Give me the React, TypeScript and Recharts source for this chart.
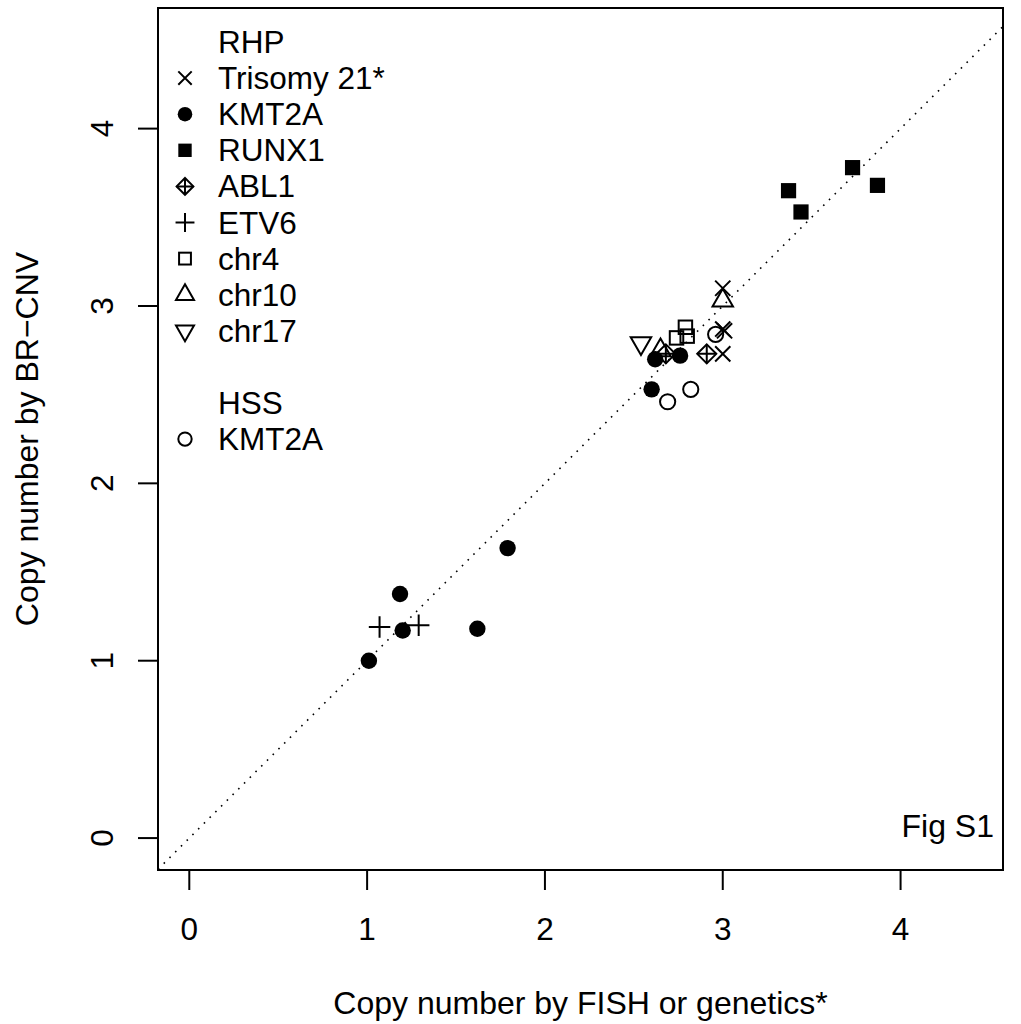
import React from 'react';
import { ScatterChart, Scatter, XAxis, YAxis, ReferenceLine, ReferenceArea, Legend } from 'recharts';

const FONT = '"Liberation Sans", Arial, Helvetica, sans-serif';

// RHP series
const trisomy21 = [{ x: 3.0, y: 3.1 }, { x: 3.0, y: 2.87 }, { x: 3.01, y: 2.86 }, { x: 3.0, y: 2.73 }];
const kmt2aRHP = [
  { x: 1.01, y: 1.0 }, { x: 1.185, y: 1.376 }, { x: 1.2, y: 1.17 }, { x: 1.62, y: 1.18 },
  { x: 1.79, y: 1.635 }, { x: 2.6, y: 2.53 }, { x: 2.62, y: 2.7 }, { x: 2.76, y: 2.72 },
];
const runx1 = [{ x: 3.37, y: 3.65 }, { x: 3.73, y: 3.78 }, { x: 3.87, y: 3.68 }, { x: 3.44, y: 3.53 }];
const abl1 = [{ x: 2.91, y: 2.73 }, { x: 2.68, y: 2.73 }];
const etv6 = [{ x: 1.07, y: 1.19 }, { x: 1.29, y: 1.2 }];
const chr4 = [{ x: 2.79, y: 2.88 }, { x: 2.8, y: 2.83 }, { x: 2.74, y: 2.82 }];
const chr10 = [{ x: 3.0, y: 3.03 }, { x: 2.65, y: 2.75 }];
const chr17 = [{ x: 2.54, y: 2.79 }];
// HSS series
const kmt2aHSS = [{ x: 2.96, y: 2.84 }, { x: 2.69, y: 2.46 }, { x: 2.82, y: 2.53 }];

const xTicks = [0, 1, 2, 3, 4];
const yTicks = [0, 1, 2, 3, 4];
const xDomain: [number, number] = [-0.176, 4.576];
const yDomain: [number, number] = [-0.18, 4.68];

const series = [
  { name: 'Trisomy 21*', data: trisomy21, sym: 'x' },
  { name: 'KMT2A', data: kmt2aRHP, sym: 'dot' },
  { name: 'RUNX1', data: runx1, sym: 'square' },
  { name: 'ABL1', data: abl1, sym: 'diamond' },
  { name: 'ETV6', data: etv6, sym: 'plus' },
  { name: 'chr4', data: chr4, sym: 'osquare' },
  { name: 'chr10', data: chr10, sym: 'tri' },
  { name: 'chr17', data: chr17, sym: 'dtri' },
  { name: 'KMT2A (HSS)', data: kmt2aHSS, sym: 'ocircle' },
];

const legendRows = [
  { header: 'RHP' },
  { sym: 'x', label: 'Trisomy 21*' },
  { sym: 'dot', label: 'KMT2A' },
  { sym: 'square', label: 'RUNX1' },
  { sym: 'diamond', label: 'ABL1' },
  { sym: 'plus', label: 'ETV6' },
  { sym: 'osquare', label: 'chr4' },
  { sym: 'tri', label: 'chr10' },
  { sym: 'dtri', label: 'chr17' },
  { blank: true },
  { header: 'HSS' },
  { sym: 'ocircle', label: 'KMT2A' },
];

const R = 7.6;
const FS = 31.5;

function Sym({ type, cx, cy, s = 1 }: { type: string; cx: number; cy: number; s?: number }) {
  const st = { stroke: '#000', strokeWidth: 2, fill: 'none' };
  const r = R * s;
  switch (type) {
    case 'x':
      return <path d={`M${cx - r},${cy - r}L${cx + r},${cy + r}M${cx - r},${cy + r}L${cx + r},${cy - r}`} {...st} />;
    case 'dot':
      return <circle cx={cx} cy={cy} r={r + 0.6} fill="#000" />;
    case 'square':
      return <rect x={cx - r} y={cy - r} width={2 * r} height={2 * r} fill="#000" />;
    case 'diamond': {
      const d = r * 1.253;
      return (
        <g {...st}>
          <path d={`M${cx},${cy - d}L${cx + d},${cy}L${cx},${cy + d}L${cx - d},${cy}Z`} />
          <path d={`M${cx},${cy - d}L${cx},${cy + d}M${cx - d},${cy}L${cx + d},${cy}`} />
        </g>
      );
    }
    case 'plus': {
      const d = r * 1.414;
      return <path d={`M${cx - d},${cy}L${cx + d},${cy}M${cx},${cy - d}L${cx},${cy + d}`} {...st} />;
    }
    case 'osquare': {
      const d = r * 0.886;
      return <rect x={cx - d} y={cy - d} width={2 * d} height={2 * d} {...st} />;
    }
    case 'tri': {
      const t = r * 1.555, w = r * 1.3468, b = r * 0.7776;
      return <path d={`M${cx},${cy - t}L${cx + w},${cy + b}L${cx - w},${cy + b}Z`} {...st} />;
    }
    case 'dtri': {
      const t = r * 1.555, w = r * 1.3468, b = r * 0.7776;
      return <path d={`M${cx},${cy + t}L${cx + w},${cy - b}L${cx - w},${cy - b}Z`} {...st} />;
    }
    case 'ocircle':
      return <circle cx={cx} cy={cy} r={r} {...st} />;
    default:
      return null;
  }
}

const XTick = (props: any) => {
  const { x, y, payload } = props;
  return (
    <text x={x} y={y} dy="0.71em" textAnchor="middle" fontSize={FS} fontFamily={FONT} fill="#000">
      {payload.value}
    </text>
  );
};

const YTick = (props: any) => {
  const { x, y, payload } = props;
  return (
    <text x={x} y={y} transform={`rotate(-90 ${x} ${y})`} textAnchor="middle" fontSize={FS} fontFamily={FONT} fill="#000">
      {payload.value}
    </text>
  );
};

const YTitle = (props: any) => {
  const vb = props.viewBox || { x: 0, y: 8, width: 158, height: 862 };
  const cx = vb.x + 27;
  const cy = vb.y + vb.height / 2;
  return (
    <text x={cx} y={cy} transform={`rotate(-90 ${cx} ${cy})`} textAnchor="middle" dominantBaseline="central" fontSize={32} fontFamily={FONT} fill="#000">
      Copy number by BR−CNV
    </text>
  );
};

const FigLabel = (props: any) => {
  const vb = props.viewBox;
  if (!vb) return null;
  return (
    <text x={vb.x + vb.width - 9} y={vb.y + vb.height - 33} textAnchor="end" fontSize={32} fontFamily={FONT} fill="#000">
      Fig S1
    </text>
  );
};

const LegendContent = () => {
  const rowH = 36.1;
  return (
    <svg width={290} height={470}>
      {legendRows.map((row: any, i) => {
        const cy = 32 + i * rowH;
        if (row.blank) return null;
        if (row.header)
          return (
            <text key={i} x={58} y={cy} dominantBaseline="central" fontSize={FS} fontFamily={FONT} fill="#000">
              {row.header}
            </text>
          );
        return (
          <g key={i}>
            <Sym type={row.sym} cx={25} cy={cy} s={0.88} />
            <text x={58} y={cy} dominantBaseline="central" fontSize={FS} fontFamily={FONT} fill="#000">
              {row.label}
            </text>
          </g>
        );
      })}
    </svg>
  );
};

export default function App() {
  return (
    <div style={{ position: 'absolute', left: 0, top: 0, width: 1021, height: 1024, background: '#fff' }}>
      <ScatterChart width={1021} height={1024} margin={{ top: 8, right: 18, bottom: 0, left: 0 }}>
        <XAxis
          type="number"
          dataKey="x"
          domain={xDomain}
          allowDataOverflow
          ticks={xTicks}
          interval={0}
          height={154}
          axisLine={false}
          tickLine={{ stroke: '#000', strokeWidth: 2 }}
          tickSize={20}
          tickMargin={28}
          tick={<XTick />}
          label={{ value: 'Copy number by FISH or genetics*', position: 'insideBottom', offset: 10, fill: '#000', fontSize: 32, fontFamily: FONT }}
        />
        <YAxis
          type="number"
          dataKey="y"
          domain={yDomain}
          allowDataOverflow
          ticks={yTicks}
          interval={0}
          width={158}
          axisLine={false}
          tickLine={{ stroke: '#000', strokeWidth: 2 }}
          tickSize={20}
          tickMargin={25}
          tick={<YTick />}
          label={<YTitle />}
        />
        <ReferenceArea
          x1={xDomain[0]}
          x2={xDomain[1]}
          y1={yDomain[0]}
          y2={yDomain[1]}
          fill="none"
          fillOpacity={0}
          stroke="#000"
          strokeWidth={2}
          ifOverflow="visible"
          label={<FigLabel />}
        />
        <ReferenceLine
          segment={[{ x: xDomain[0], y: xDomain[0] }, { x: xDomain[1], y: xDomain[1] }]}
          stroke="#000"
          strokeWidth={1.6}
          strokeDasharray="1.6 6.5"
          ifOverflow="visible"
        />
        {series.map((s) => (
          <Scatter
            key={s.name}
            name={s.name}
            data={s.data}
            isAnimationActive={false}
            shape={(p: any) => <Sym type={s.sym} cx={p.cx} cy={p.cy} />}
          />
        ))}
        <Legend
          layout="horizontal"
          verticalAlign="middle"
          align="center"
          content={<LegendContent />}
          wrapperStyle={{ position: 'absolute', left: 160, top: 10, width: 290, height: 470 }}
        />
      </ScatterChart>
    </div>
  );
}
